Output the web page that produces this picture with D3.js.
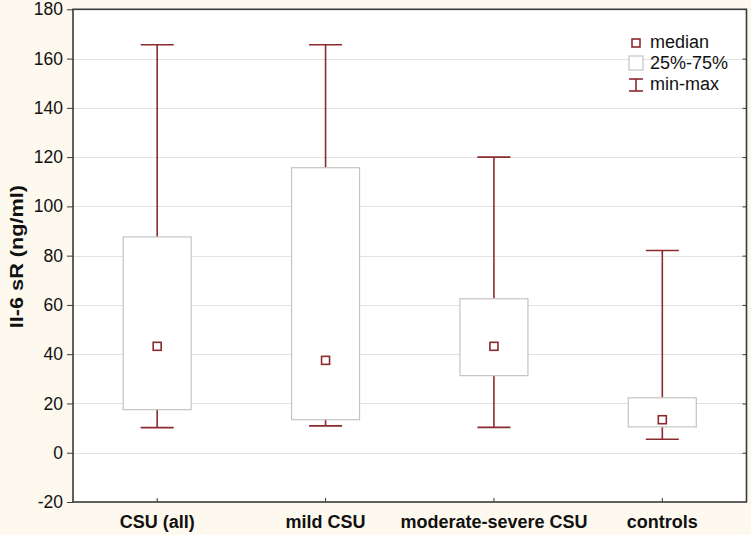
<!DOCTYPE html>
<html>
<head>
<meta charset="utf-8">
<script src="https://cdn.jsdelivr.net/npm/d3@7"></script>
<style>
  html, body { margin: 0; padding: 0; background: #fdf9ee; }
  svg { display: block; font-family: "Liberation Sans", Arial, sans-serif; }
</style>
</head>
<body>
<svg id="chart" width="751" height="535"></svg>
<script>
const categories = ["CSU (all)", "mild CSU", "moderate-severe CSU", "controls"];
const minValues    = [10.2, 10.9, 10.3, 5.5];
const q1Values     = [17.5, 13.4, 31.3, 10.5];
const medianValues = [43.2, 37.5, 43.2, 13.4];
const q3Values     = [87.6, 115.7, 62.5, 22.3];
const maxValues    = [165.6, 165.6, 120.0, 82.1];
const yTicks = [-20, 0, 20, 40, 60, 80, 100, 120, 140, 160, 180];
const legendLabels = ["median", "25%-75%", "min-max"];
const yTitle = "Il-6 sR (ng/ml)";

(function () {
const W = 751, H = 535;
const margin = { left: 73, top: 9.3, right: 4.5, bottom: 33 };
const svg = d3.select("#chart");
const whiskerColor = "#8b2a2e";
const boxColor = "#c4c4c4";

const x = d3.scaleBand().domain(categories).range([margin.left, W - margin.right]).padding(0);
const y = d3.scaleLinear().domain([-20, 180]).range([H - margin.bottom, margin.top]);

svg.append("rect").attr("x", margin.left).attr("y", margin.top)
  .attr("width", W - margin.right - margin.left).attr("height", H - margin.bottom - margin.top)
  .attr("fill", "#ffffff");

svg.append("g").selectAll("line").data(yTicks.slice(1, -1)).join("line")
  .attr("x1", margin.left).attr("x2", W - margin.right)
  .attr("y1", d => Math.round(y(d)) + 0.5).attr("y2", d => Math.round(y(d)) + 0.5)
  .attr("stroke", "#e2e2e2").attr("stroke-width", 1);

const data = categories.map((c, i) => ({
  c, min: minValues[i], q1: q1Values[i], med: medianValues[i], q3: q3Values[i], max: maxValues[i]
}));

const boxW = 68, capW = 33, medS = 8;
const g = svg.append("g");
data.forEach(d => {
  const cx = x(d.c) + x.bandwidth() / 2;
  g.append("line").attr("x1", cx).attr("x2", cx).attr("y1", y(d.max)).attr("y2", y(d.q3))
    .attr("stroke", whiskerColor).attr("stroke-width", 1.6);
  g.append("line").attr("x1", cx).attr("x2", cx).attr("y1", y(d.q1)).attr("y2", y(d.min))
    .attr("stroke", whiskerColor).attr("stroke-width", 1.6);
  g.append("line").attr("x1", cx - capW / 2).attr("x2", cx + capW / 2).attr("y1", y(d.max)).attr("y2", y(d.max))
    .attr("stroke", whiskerColor).attr("stroke-width", 1.6);
  g.append("line").attr("x1", cx - capW / 2).attr("x2", cx + capW / 2).attr("y1", y(d.min)).attr("y2", y(d.min))
    .attr("stroke", whiskerColor).attr("stroke-width", 1.6);
  g.append("rect").attr("x", cx - boxW / 2).attr("y", y(d.q3))
    .attr("width", boxW).attr("height", y(d.q1) - y(d.q3))
    .attr("fill", "#ffffff").attr("stroke", boxColor).attr("stroke-width", 1.2);
  g.append("rect").attr("x", cx - medS / 2).attr("y", y(d.med) - medS / 2)
    .attr("width", medS).attr("height", medS)
    .attr("fill", "#ffffff").attr("stroke", whiskerColor).attr("stroke-width", 1.6);
});

const axisColor = "#3a3a3a";
const axLeft = svg.append("g").attr("transform", `translate(${margin.left},0)`)
  .call(d3.axisLeft(y).tickValues(yTicks).tickSize(6).tickPadding(4).tickFormat(d => String(d)));
const axRight = svg.append("g").attr("transform", `translate(${W - margin.right},0)`)
  .call(d3.axisLeft(y).tickValues(yTicks.slice(1, -1)).tickSize(4).tickFormat(""));
const axBottom = svg.append("g").attr("transform", `translate(0,${H - margin.bottom})`)
  .call(d3.axisTop(x).tickSize(4).tickFormat(""));
[axLeft, axRight, axBottom].forEach(a => {
  a.select(".domain").remove();
  a.selectAll(".tick line").attr("stroke", axisColor).attr("stroke-width", 1);
});
axLeft.selectAll(".tick text").attr("font-size", 17.5).attr("fill", "#111")
  .attr("font-family", "Liberation Sans, Arial, sans-serif");

svg.append("rect").attr("x", margin.left).attr("y", margin.top)
  .attr("width", W - margin.right - margin.left).attr("height", H - margin.bottom - margin.top)
  .attr("fill", "none").attr("stroke", axisColor).attr("stroke-width", 1.6);

svg.append("g").selectAll("text").data(categories).join("text")
  .attr("x", d => x(d) + x.bandwidth() / 2).attr("y", 528)
  .attr("text-anchor", "middle").attr("font-size", 18).attr("font-weight", "bold").attr("fill", "#111")
  .text(d => d);

svg.append("text").attr("transform", `translate(23,${(margin.top + H - margin.bottom) / 2 + 1}) rotate(-90)`)
  .attr("text-anchor", "middle").attr("font-size", 19).attr("font-weight", "bold").attr("fill", "#111")
  .attr("textLength", 143).attr("lengthAdjust", "spacingAndGlyphs")
  .text(yTitle);

const lg = svg.append("g");
const lx = 636, ly = [43, 63, 85];
lg.append("rect").attr("x", lx - 4).attr("y", ly[0] - 4).attr("width", 8).attr("height", 8)
  .attr("fill", "#fff").attr("stroke", whiskerColor).attr("stroke-width", 1.6);
lg.append("rect").attr("x", lx - 7).attr("y", ly[1] - 7).attr("width", 14).attr("height", 14)
  .attr("fill", "#fff").attr("stroke", boxColor).attr("stroke-width", 1.2);
lg.append("line").attr("x1", lx).attr("x2", lx).attr("y1", ly[2] - 6).attr("y2", ly[2] + 6)
  .attr("stroke", whiskerColor).attr("stroke-width", 1.6);
lg.append("line").attr("x1", lx - 7).attr("x2", lx + 7).attr("y1", ly[2] - 6).attr("y2", ly[2] - 6)
  .attr("stroke", whiskerColor).attr("stroke-width", 1.6);
lg.append("line").attr("x1", lx - 7).attr("x2", lx + 7).attr("y1", ly[2] + 6).attr("y2", ly[2] + 6)
  .attr("stroke", whiskerColor).attr("stroke-width", 1.6);
lg.selectAll("text").data(legendLabels).join("text")
  .attr("x", 650).attr("y", (d, i) => [48, 69, 90][i])
  .attr("font-size", 18).attr("fill", "#111").text(d => d);
})();
</script>
</body>
</html>
